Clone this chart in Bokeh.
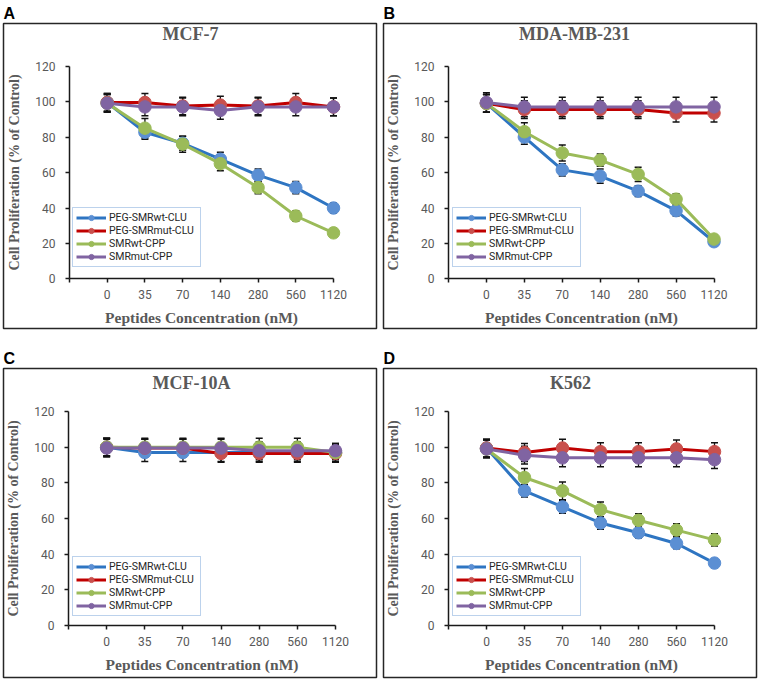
from bokeh.plotting import figure
from bokeh.models import (Range1d, FixedTicker, Label, Legend, LegendItem,
                          Whisker, TeeHead, ColumnDataSource)
from bokeh.layouts import gridplot
from bokeh.embed import file_html
from bokeh.resources import INLINE

# ---------------- data ----------------
conc_labels = ["0", "35", "70", "140", "280", "560", "1120"]
series_names = ["PEG-SMRwt-CLU", "PEG-SMRmut-CLU", "SMRwt-CPP", "SMRmut-CPP"]
y_ticks = [0, 20, 40, 60, 80, 100, 120]

# A: MCF-7
mcf7_wt_clu = [99.5, 82.7, 76.5, 67.5, 58.5, 51.5, 40.0]
mcf7_mut_clu = [99.5, 99.5, 97.5, 98.0, 97.5, 99.5, 97.0]
mcf7_wt_cpp = [99.0, 85.0, 76.0, 65.0, 51.5, 35.5, 26.0]
mcf7_mut_cpp = [99.0, 97.0, 97.0, 95.0, 97.0, 97.0, 97.0]
mcf7_err_wt_clu = [5, 4, 4, 4, 3.5, 3.5, 3]
mcf7_err_mut_clu = [5, 5, 5, 5, 5, 5, 5]
mcf7_err_wt_cpp = [5, 5.5, 4.5, 4, 3.5, 3, 2.5]
mcf7_err_mut_cpp = [5, 5, 5, 5, 5, 5, 5]

# B: MDA-MB-231
mda_wt_clu = [99.0, 80.0, 61.5, 58.0, 49.5, 38.5, 21.0]
mda_mut_clu = [99.0, 95.5, 95.5, 95.5, 95.5, 93.5, 93.5]
mda_wt_cpp = [99.0, 83.0, 71.0, 67.0, 59.0, 45.0, 22.5]
mda_mut_cpp = [99.5, 97.0, 97.0, 97.0, 97.0, 97.0, 97.0]
mda_err_wt_clu = [5, 4, 3.5, 4, 3, 3, 2.5]
mda_err_mut_clu = [5, 5, 5, 5, 5, 5, 5]
mda_err_wt_cpp = [5, 5, 4.5, 3.5, 4, 3, 2.5]
mda_err_mut_cpp = [5.5, 5.5, 5.5, 5.5, 5.5, 5.5, 5.5]

# C: MCF-10A
mcf10a_wt_clu = [100.0, 97.0, 97.0, 97.0, 97.0, 97.0, 97.0]
mcf10a_mut_clu = [100.0, 99.5, 99.5, 96.5, 96.5, 96.5, 96.5]
mcf10a_wt_cpp = [100.0, 100.0, 100.0, 100.0, 100.0, 100.0, 97.0]
mcf10a_mut_cpp = [99.5, 99.5, 99.5, 99.5, 98.0, 98.0, 98.0]
mcf10a_err_wt_clu = [5, 5, 5, 5, 5, 5, 5]
mcf10a_err_mut_clu = [5, 5, 5, 5, 5, 5, 5]
mcf10a_err_wt_cpp = [5, 5, 5, 5, 5, 5, 4]
mcf10a_err_mut_cpp = [5, 5, 5, 5, 5, 5, 4]

# D: K562
k562_wt_clu = [99.5, 75.5, 66.5, 57.5, 52.0, 46.0, 35.0]
k562_mut_clu = [99.5, 97.0, 99.5, 97.5, 97.5, 99.0, 97.5]
k562_wt_cpp = [99.0, 83.0, 75.5, 65.0, 59.0, 53.5, 48.0]
k562_mut_cpp = [99.0, 95.5, 94.0, 94.0, 94.0, 94.0, 93.0]
k562_err_wt_clu = [5, 3.5, 3.5, 3.5, 3, 3, 2.5]
k562_err_mut_clu = [5, 5, 5, 5, 5, 5, 5]
k562_err_wt_cpp = [5, 5, 5, 4.3, 3.7, 3.5, 3.4]
k562_err_mut_cpp = [5, 5, 5, 5, 5, 5, 5]

# ---------------- style ----------------
line_colors = ["#2e75c2", "#c00000", "#9bbb59", "#8064a2"]
marker_colors = ["#5b8fd3", "#c9504d", "#9bbb59", "#8064a2"]
GREY = "#595959"


def make_panel(letter, title, series, errors, W, H, box, axis_x_px, axis_y_px,
               title_xy, legend_xy):
    """box: panel frame (left, right, top, bottom) in canvas px;
    axis_x_px: canvas px of category index -1 and 6; axis_y_px: px of y=0 and y=120."""
    bl, br, bt, bb = box
    xm1, x6 = axis_x_px
    ux = (x6 - xm1) / 7.0
    x_start = -1 - (xm1 - bl) / ux
    x_end = 6 + (br - x6) / ux
    y0, y120 = axis_y_px
    uy = (y0 - y120) / 120.0
    y_start = -(bb - y0) / uy
    y_end = 120 + (y120 - bt) / uy

    xs = list(range(len(conc_labels)))
    p = figure(width=W, height=H, x_range=Range1d(x_start, x_end),
               y_range=Range1d(y_start, y_end),
               output_backend="svg", toolbar_location=None,
               min_border_left=bl, min_border_right=W - br,
               min_border_top=bt, min_border_bottom=H - bb)
    p.outline_line_color = "#262626"
    p.outline_line_width = 1.5
    p.grid.visible = False

    # panel letter as the figure title (outside the box)
    p.title.text = letter
    p.title.align = "left"
    p.title.text_font = "Liberation Sans"
    p.title.text_font_style = "bold"
    p.title.text_font_size = "16px"
    p.title.text_color = "black"
    p.title.standoff = 4

    # axes, placed inside the panel box
    xa = p.xaxis[0]
    xa.fixed_location = 0
    xa.ticker = FixedTicker(ticks=[-1] + xs)
    xa.major_label_overrides = {-1: ""} | {i: lab for i, lab in enumerate(conc_labels)}
    xa.bounds = (-1, len(conc_labels) - 1)
    xa.axis_label = "Peptides Concentration (nM)"
    ya = p.yaxis[0]
    ya.fixed_location = -1
    ya.ticker = FixedTicker(ticks=y_ticks)
    ya.bounds = (0, 120)
    ya.axis_label = "Cell Proliferation (% of Control)"
    for ax in (xa, ya):
        ax.axis_line_color = "#1a1a1a"
        ax.axis_line_width = 1.5
        ax.major_tick_line_color = "#1a1a1a"
        ax.major_tick_line_width = 1.5
        ax.major_tick_in = 0
        ax.major_tick_out = 4
        ax.minor_tick_line_color = None
        ax.major_label_text_font = "Roboto"
        ax.major_label_text_font_size = "12px"
        ax.major_label_text_color = GREY
        ax.axis_label_text_font = "Liberation Serif"
        ax.axis_label_text_font_style = "bold"
        ax.axis_label_text_color = GREY
    xa.major_label_standoff = 7
    xa.axis_label_standoff = 7
    xa.axis_label_text_font_size = "15.5px"
    ya.major_label_standoff = 10
    ya.axis_label_standoff = 10
    ya.axis_label_text_font_size = "14px"

    # error bars (under the markers)
    for vals, errs in zip(series, errors):
        src = ColumnDataSource(dict(x=xs,
                                    upper=[v + e for v, e in zip(vals, errs)],
                                    lower=[v - e for v, e in zip(vals, errs)]))
        w = Whisker(source=src, base="x", upper="upper", lower="lower",
                    dimension="height", line_color="#111111", line_width=1.3,
                    upper_head=TeeHead(size=7, line_color="#111111", line_width=1.5),
                    lower_head=TeeHead(size=7, line_color="#111111", line_width=1.5),
                    level="underlay")
        p.add_layout(w)

    items = []
    for name, vals, lc, mc in zip(series_names, series, line_colors, marker_colors):
        lr = p.line(xs, vals, line_color=lc, line_width=3)
        sr = p.scatter(xs, vals, size=12.5, fill_color=mc, line_color=mc)
        items.append(LegendItem(label=name, renderers=[lr, sr]))

    leg = Legend(items=items, location=legend_xy, margin=0, padding=3, spacing=0,
                 label_height=13, glyph_height=13, glyph_width=30, label_standoff=3,
                 label_width=88, label_text_font="Roboto", label_text_font_size="10.5px",
                 label_text_color="#262626", border_line_color="#7aa6da",
                 border_line_width=1.5, background_fill_color="white",
                 background_fill_alpha=1.0)
    p.add_layout(leg)

    tx, ty = title_xy
    p.add_layout(Label(x=tx - bl, y=bb - ty, x_units="screen", y_units="screen",
                       text=title, text_align="center", text_baseline="middle",
                       text_font="Liberation Serif", text_font_style="bold",
                       text_font_size="18px", text_color=GREY))
    return p


pA = make_panel("A", "MCF-7",
                [mcf7_wt_clu, mcf7_mut_clu, mcf7_wt_cpp, mcf7_mut_cpp],
                [mcf7_err_wt_clu, mcf7_err_mut_clu, mcf7_err_wt_cpp, mcf7_err_mut_cpp],
                W=380, H=340, box=(3, 376, 20, 328), axis_x_px=(69, 333),
                axis_y_px=(278, 63), title_xy=(190, 33), legend_xy=(69, 61))
pB = make_panel("B", "MDA-MB-231",
                [mda_wt_clu, mda_mut_clu, mda_wt_cpp, mda_mut_cpp],
                [mda_err_wt_clu, mda_err_mut_clu, mda_err_wt_cpp, mda_err_mut_cpp],
                W=381, H=340, box=(3, 376, 20, 328), axis_x_px=(68, 333.5),
                axis_y_px=(278, 63), title_xy=(194, 33), legend_xy=(69, 61))
pC = make_panel("C", "MCF-10A",
                [mcf10a_wt_clu, mcf10a_mut_clu, mcf10a_wt_cpp, mcf10a_mut_cpp],
                [mcf10a_err_wt_clu, mcf10a_err_mut_clu, mcf10a_err_wt_cpp, mcf10a_err_mut_cpp],
                W=380, H=341, box=(3, 376, 28, 337), axis_x_px=(68, 335),
                axis_y_px=(285, 71), title_xy=(191, 42), legend_xy=(69, 61))
pD = make_panel("D", "K562",
                [k562_wt_clu, k562_mut_clu, k562_wt_cpp, k562_mut_cpp],
                [k562_err_wt_clu, k562_err_mut_clu, k562_err_wt_cpp, k562_err_mut_cpp],
                W=381, H=341, box=(3, 376, 28, 337), axis_x_px=(68, 334),
                axis_y_px=(285, 71), title_xy=(190, 42), legend_xy=(69, 61))

grid = gridplot([[pA, pB], [pC, pD]], toolbar_location=None)
open("out.html", "w").write(file_html(grid, INLINE))
